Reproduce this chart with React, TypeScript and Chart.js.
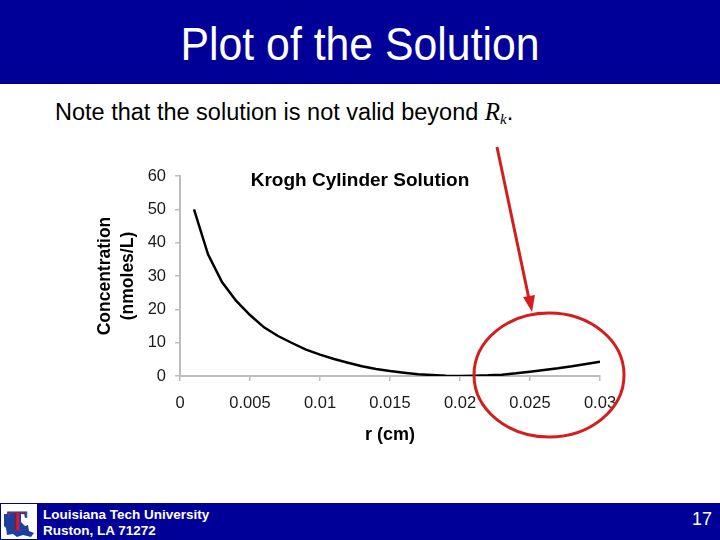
import React, { useEffect, useRef } from "react";
import { Chart, registerables } from "chart.js";

Chart.register(...registerables);

// radius r (cm)
const radius = [
  0.001, 0.002, 0.003, 0.004, 0.005, 0.006, 0.007, 0.008, 0.009, 0.01,
  0.011, 0.012, 0.013, 0.014, 0.015, 0.016, 0.017, 0.018, 0.019, 0.02,
  0.021, 0.022, 0.023, 0.024, 0.025, 0.026, 0.027, 0.028, 0.029, 0.03,
];
// concentration (nmoles/L)
const concentration = [
  50, 36.5, 28.2, 22.6, 18.3, 14.6, 12.0, 9.9, 7.9, 6.4,
  5.1, 4.0, 2.9, 2.1, 1.5, 1.0, 0.5, 0.3, 0.1, 0.0,
  0.1, 0.2, 0.4, 0.8, 1.3, 1.8, 2.3, 2.9, 3.6, 4.3,
];
const xTicks = [0, 0.005, 0.01, 0.015, 0.02, 0.025, 0.03];
const xTickLabels = ["0", "0.005", "0.01", "0.015", "0.02", "0.025", "0.03"];
const yTicks = [0, 10, 20, 30, 40, 50, 60];

const chartTitle = "Krogh Cylinder Solution";
const xTitle = "r (cm)";
const yTitle = ["Concentration", "(nmoles/L)"];

const FONT = '"Liberation Sans", Arial, Helvetica, sans-serif';
const AXIS_GREY = "#bdbdbd";

const titlePlugin = {
  id: "overlayTitle",
  afterDraw(chart: any) {
    const ctx = chart.ctx;
    ctx.save();
    ctx.font = `bold 19px ${FONT}`;
    ctx.fillStyle = "#000";
    ctx.textAlign = "center";
    ctx.textBaseline = "alphabetic";
    ctx.fillText(chartTitle, chart.width / 2, 36);
    ctx.restore();
  },
};

function KroghChart() {
  const ref = useRef<HTMLCanvasElement | null>(null);
  useEffect(() => {
    if (!ref.current) return;
    const chart = new Chart(ref.current, {
      type: "line",
      data: {
        datasets: [
          {
            data: radius.map((r, i) => ({ x: r, y: concentration[i] })),
            borderColor: "#000",
            borderWidth: 2.5,
            pointRadius: 0,
            tension: 0,
            fill: false,
          },
        ],
      },
      options: {
        animation: false,
        responsive: false,
        devicePixelRatio: 1,
        layout: { padding: { left: 0, right: 40, top: 26, bottom: 4 } },
        plugins: {
          legend: { display: false },
          title: { display: false },
          tooltip: { enabled: false },
        },
        scales: {
          x: {
            type: "linear",
            min: 0,
            max: 0.03,
            afterBuildTicks: (scale: any) => {
              scale.ticks = xTicks.map((v) => ({ value: v }));
            },
            afterFit: (scale: any) => {
              scale.height = 70;
            },
            ticks: {
              autoSkip: false,
              maxRotation: 0,
              padding: 13,
              color: "#1a1a1a",
              font: { family: FONT, size: 16.5 },
              callback: (v: any) => {
                const i = xTicks.findIndex((t) => Math.abs(t - Number(v)) < 1e-9);
                return i >= 0 ? xTickLabels[i] : "";
              },
            },
            grid: {
              drawOnChartArea: false,
              drawTicks: true,
              tickLength: 5,
              tickColor: AXIS_GREY,
              lineWidth: 1.5,
              color: AXIS_GREY,
            },
            border: { display: true, color: AXIS_GREY, width: 2 },
            title: {
              display: true,
              text: xTitle,
              color: "#000",
              font: { family: FONT, size: 18, weight: "bold", lineHeight: 1.2 },
              padding: { top: 0, bottom: 0 },
            },
          },
          y: {
            type: "linear",
            min: 0,
            max: 60,
            afterBuildTicks: (scale: any) => {
              scale.ticks = yTicks.map((v) => ({ value: v }));
            },
            afterFit: (scale: any) => {
              scale.width = 100;
            },
            ticks: {
              padding: 9,
              color: "#1a1a1a",
              font: { family: FONT, size: 16.5 },
            },
            grid: {
              drawOnChartArea: false,
              drawTicks: true,
              tickLength: 5,
              tickColor: AXIS_GREY,
              lineWidth: 1.5,
              color: AXIS_GREY,
            },
            border: { display: true, color: AXIS_GREY, width: 2 },
            title: {
              display: true,
              text: yTitle,
              color: "#000",
              font: { family: FONT, size: 17.5, weight: "bold", lineHeight: 1.3 },
              padding: { top: 14, bottom: 0 },
            },
          },
        },
      },
      plugins: [titlePlugin],
    } as any);
    return () => chart.destroy();
  }, []);
  return (
    <canvas
      ref={ref}
      width={560}
      height={300}
      style={{ width: 560, height: 300, display: "block" }}
    />
  );
}

function Logo() {
  return (
    <svg width={36} height={35} viewBox="0 0 36 35" style={{ display: "block" }}>
      <rect x={0} y={0} width={36} height={35} fill="#fff" />
      <path
        d="M3 10 L20 10 L20 18 L24 22 L27 21 L28 27 L33 29 L30 33 L22 31 L16 33 L12 30 L6 31 L5 24 L3 22 Z"
        fill="#1f3fa0"
      />
      <text
        x={16}
        y={27}
        textAnchor="middle"
        fontFamily='"Liberation Serif", "Times New Roman", serif'
        fontWeight="bold"
        fontSize={30}
        fill="#d01818"
        stroke="#1f3fa0"
        strokeWidth={1}
      >
        T
      </text>
    </svg>
  );
}

export default function App() {
  return (
    <div
      style={{
        position: "absolute",
        left: 0,
        top: 0,
        width: 720,
        height: 540,
        background: "#fff",
        overflow: "hidden",
        fontFamily: FONT,
      }}
    >
      <div
        style={{
          position: "absolute",
          left: 0,
          top: 0,
          width: 720,
          height: 84,
          background: "#000099",
          borderBottom: "1px solid #00005a",
          color: "#fff",
          textAlign: "center",
          fontSize: 46,
          lineHeight: "84px",
          paddingTop: 2,
          boxSizing: "border-box",
        }}
      >
        <span style={{ display: "inline-block", transform: "scaleX(0.93)" }}>
          Plot of the Solution
        </span>
      </div>

      <div
        style={{
          position: "absolute",
          left: 55,
          top: 99,
          fontSize: 23.5,
          lineHeight: "26px",
          color: "#000",
          whiteSpace: "nowrap",
        }}
      >
        Note that the solution is not valid beyond{" "}
        <span
          style={{
            fontFamily: '"Liberation Serif", "Times New Roman", serif',
            fontStyle: "italic",
            fontSize: 25,
          }}
        >
          R<sub style={{ fontSize: 15, verticalAlign: "-4px" }}>k</sub>
        </span>
        .
      </div>

      <div style={{ position: "absolute", left: 80, top: 150, width: 560, height: 300 }}>
        <KroghChart />
      </div>

      <svg
        width={720}
        height={540}
        style={{ position: "absolute", left: 0, top: 0, pointerEvents: "none" }}
      >
        <ellipse cx={549} cy={375} rx={75} ry={62} fill="none" stroke="#d41e1e" strokeWidth={3} />
        <line x1={497} y1={147} x2={529} y2={299} stroke="#d41e1e" strokeWidth={3} />
        <polygon points="532,312 523,297 535,295" fill="#d41e1e" />
      </svg>

      <div
        style={{
          position: "absolute",
          left: 0,
          top: 503,
          width: 720,
          height: 37,
          background: "#000099",
        }}
      />
      <div style={{ position: "absolute", left: 1, top: 504 }}>
        <Logo />
      </div>
      <div
        style={{
          position: "absolute",
          left: 43,
          top: 507,
          color: "#fff",
          fontSize: 13.5,
          fontWeight: "bold",
          lineHeight: "16px",
          whiteSpace: "nowrap",
        }}
      >
        Louisiana Tech University
        <br />
        Ruston, LA 71272
      </div>
      <div
        style={{
          position: "absolute",
          right: 8,
          top: 508,
          color: "#fff",
          fontSize: 18,
          lineHeight: "22px",
        }}
      >
        17
      </div>
    </div>
  );
}
